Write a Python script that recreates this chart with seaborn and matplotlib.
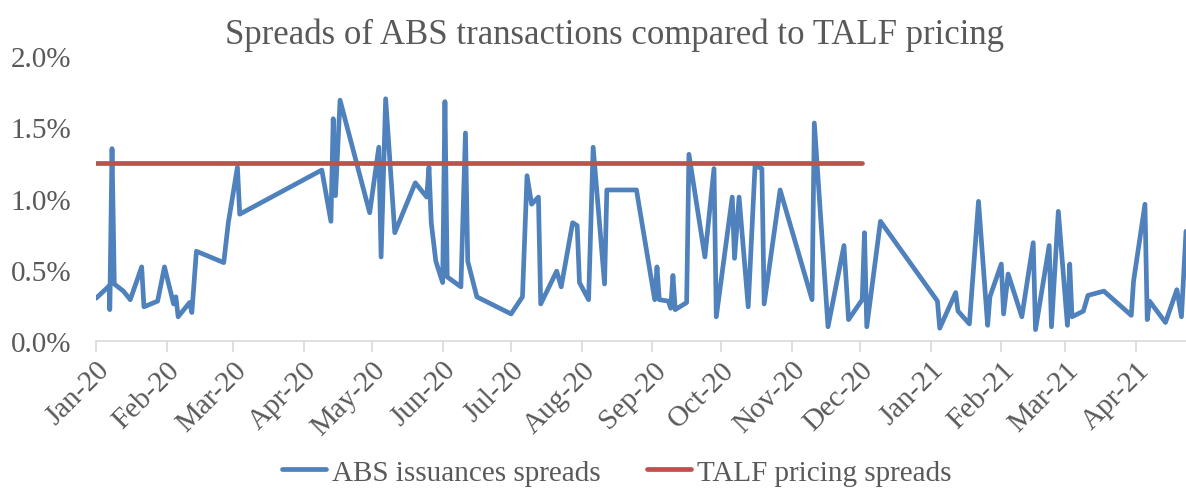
import pandas as pd
import matplotlib
matplotlib.use('Agg')
import matplotlib.pyplot as plt
import matplotlib.dates as mdates
from matplotlib.ticker import FuncFormatter, MultipleLocator
import seaborn as sns

# ABS issuance spreads (%)
abs_dates = [
    '2020-01-01', '2020-01-07', '2020-01-07', '2020-01-08', '2020-01-09', '2020-01-13',
    '2020-01-16', '2020-01-21', '2020-01-22', '2020-01-28', '2020-01-31', '2020-02-04',
    '2020-02-05', '2020-02-06', '2020-02-11', '2020-02-12', '2020-02-14', '2020-02-26',
    '2020-02-28', '2020-03-03', '2020-03-04', '2020-04-09', '2020-04-13', '2020-04-14',
    '2020-04-15', '2020-04-17', '2020-04-30', '2020-05-04', '2020-05-05', '2020-05-07',
    '2020-05-11', '2020-05-20', '2020-05-25', '2020-05-26', '2020-05-27', '2020-05-29',
    '2020-06-01', '2020-06-02', '2020-06-03', '2020-06-09', '2020-06-11', '2020-06-12',
    '2020-06-16', '2020-07-01', '2020-07-06', '2020-07-08', '2020-07-10', '2020-07-13',
    '2020-07-14', '2020-07-21', '2020-07-23', '2020-07-28', '2020-07-30', '2020-07-31',
    '2020-08-04', '2020-08-06', '2020-08-11', '2020-08-12', '2020-08-25', '2020-09-02',
    '2020-09-03', '2020-09-04', '2020-09-08', '2020-09-09', '2020-09-10', '2020-09-11',
    '2020-09-16', '2020-09-17', '2020-09-24', '2020-09-28', '2020-09-29', '2020-10-06',
    '2020-10-07', '2020-10-09', '2020-10-13', '2020-10-16', '2020-10-19', '2020-10-20',
    '2020-10-27', '2020-11-10', '2020-11-11', '2020-11-17', '2020-11-24', '2020-11-26',
    '2020-12-02', '2020-12-03', '2020-12-04', '2020-12-10', '2021-01-04', '2021-01-05',
    '2021-01-12', '2021-01-13', '2021-01-18', '2021-01-22', '2021-01-26', '2021-01-27',
    '2021-02-01', '2021-02-02', '2021-02-04', '2021-02-10', '2021-02-15', '2021-02-16',
    '2021-02-22', '2021-02-23', '2021-02-26', '2021-03-02', '2021-03-03', '2021-03-04',
    '2021-03-09', '2021-03-11', '2021-03-18', '2021-03-30', '2021-03-31', '2021-04-05',
    '2021-04-06', '2021-04-07', '2021-04-14', '2021-04-19', '2021-04-21', '2021-04-23',
]
abs_spreads = [
    0.30, 0.39, 0.22, 1.35, 0.40, 0.35,
    0.29, 0.52, 0.24, 0.28, 0.52, 0.26,
    0.31, 0.17, 0.27, 0.20, 0.63, 0.55,
    0.83, 1.22, 0.89, 1.20, 0.84, 1.56,
    1.02, 1.69, 0.90, 1.36, 0.59, 1.70,
    0.76, 1.11, 1.01, 1.22, 0.83, 0.56,
    0.41, 1.68, 0.45, 0.38, 1.46, 0.56,
    0.31, 0.19, 0.31, 1.16, 0.96, 1.01,
    0.26, 0.49, 0.38, 0.83, 0.81, 0.41,
    0.29, 1.36, 0.40, 1.06, 1.06, 0.29,
    0.52, 0.29, 0.28, 0.23, 0.46, 0.22,
    0.27, 1.31, 0.59, 1.21, 0.17, 1.01,
    0.58, 1.01, 0.24, 1.23, 1.21, 0.26,
    1.06, 0.29, 1.53, 0.10, 0.67, 0.15,
    0.29, 0.76, 0.10, 0.84, 0.28, 0.09,
    0.34, 0.21, 0.12, 0.98, 0.11, 0.31,
    0.54, 0.19, 0.47, 0.17, 0.69, 0.08,
    0.67, 0.10, 0.91, 0.11, 0.54, 0.17,
    0.21, 0.32, 0.35, 0.18, 0.42, 0.96,
    0.15, 0.28, 0.13, 0.36, 0.17, 0.77,
]

# TALF pricing spread (%)
talf_dates = ['2020-01-01', '2020-12-02']
talf_spreads = [1.25, 1.25]

abs_df = pd.DataFrame({'date': pd.to_datetime(abs_dates), 'spread': abs_spreads})
talf_df = pd.DataFrame({'date': pd.to_datetime(talf_dates), 'spread': talf_spreads})

sns.set_style('white')
plt.rcParams['font.family'] = ['Liberation Serif', 'DejaVu Serif']
text_color = '#595959'

fig = plt.figure(figsize=(11.86, 4.89), dpi=100)
ax = fig.add_axes([0.081, 0.3006, 0.919, 0.5828])

sns.lineplot(data=abs_df, x='date', y='spread', ax=ax, color='#4F81BD', linewidth=3.4,
             estimator=None, sort=False, label='ABS issuances spreads',
             solid_capstyle='round', solid_joinstyle='round')
sns.lineplot(data=talf_df, x='date', y='spread', ax=ax, color='#C0504D', linewidth=3.4,
             estimator=None, sort=False, label='TALF pricing spreads',
             solid_capstyle='round')

ax.set_xlim(pd.Timestamp('2020-01-01'), pd.Timestamp('2021-04-23'))
ax.set_ylim(0, 2.0)
ax.yaxis.set_major_locator(MultipleLocator(0.5))
ax.yaxis.set_major_formatter(FuncFormatter(lambda v, p: f'{v:.1f}%'))
ax.xaxis.set_major_locator(mdates.MonthLocator())
ax.xaxis.set_major_formatter(mdates.DateFormatter('%b-%y'))

ax.set_xlabel('')
ax.set_ylabel('')
for side in ['left', 'right', 'top']:
    ax.spines[side].set_visible(False)
ax.spines['bottom'].set_color('#D9D9D9')
ax.spines['bottom'].set_linewidth(1.2)

ax.tick_params(axis='x', direction='out', length=8, width=1.2, color='#D9D9D9',
               labelsize=21, labelcolor=text_color, pad=3, bottom=True)
ax.tick_params(axis='y', length=0, labelsize=21, labelcolor=text_color, pad=18)
for lbl in ax.get_xticklabels():
    lbl.set_rotation(45)
    lbl.set_ha('right')
    lbl.set_va('top')
    lbl.set_rotation_mode('anchor')

fig.suptitle('Spreads of ABS transactions compared to TALF pricing',
             x=0.518, y=0.962, fontsize=25, color=text_color)

ax.get_legend().remove()
fig.legend(loc='center', bbox_to_anchor=(0.52, 0.032), ncol=2, frameon=False,
           fontsize=21, labelcolor=text_color, handlelength=1.5,
           handletextpad=0.2, columnspacing=1.6)

plt.savefig('out.png', dpi=100)
